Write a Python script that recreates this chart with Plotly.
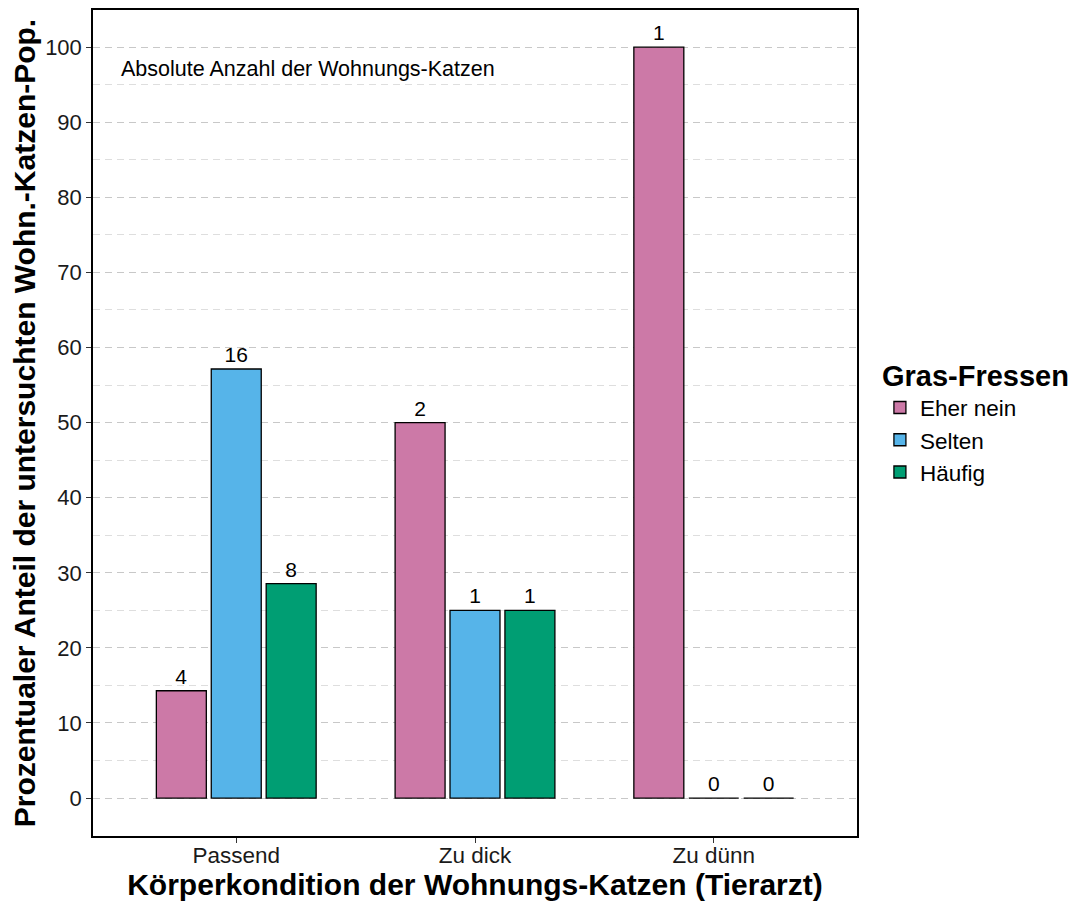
import plotly.graph_objects as go

categories = ["Passend", "Zu dick", "Zu dünn"]
groups = ["Eher nein", "Selten", "Häufig"]
percent = {
    "Eher nein": [14.29, 50.0, 100.0],
    "Selten": [57.14, 25.0, 0.0],
    "Häufig": [28.57, 25.0, 0.0],
}
counts = {
    "Eher nein": [4, 2, 1],
    "Selten": [16, 1, 0],
    "Häufig": [8, 1, 0],
}
colors = {"Eher nein": "#CC79A7", "Selten": "#56B4E9", "Häufig": "#009E73"}

FONT = "Liberation Sans, Arial, sans-serif"

fig = go.Figure()
for g in groups:
    fig.add_trace(go.Bar(
        x=categories, y=percent[g], name=g,
        marker=dict(color=colors[g], line=dict(color="black", width=1.3)),
        text=[str(c) for c in counts[g]], textposition="outside",
        textfont=dict(size=21, color="black", family=FONT),
        cliponaxis=False,
    ))

# page body adds an 8px margin, so the figure is 8px smaller and shifted
fig.update_layout(
    width=1073, height=894,
    barmode="group", bargap=0.31, bargroupgap=0.09,
    plot_bgcolor="white", paper_bgcolor="white",
    margin=dict(l=85, r=224, t=2, b=66),
    font=dict(family=FONT, color="black"),
    legend=dict(
        title=dict(text="<b>Gras-Fressen</b>", font=dict(size=29, family=FONT)),
        font=dict(size=22.5, family=FONT),
        x=1.03, xanchor="left", y=0.59, yanchor="top",
        tracegroupgap=0, itemwidth=30, borderwidth=0,
    ),
    annotations=[dict(
        text="Absolute Anzahl der Wohnungs-Katzen", xref="paper", yref="paper",
        x=0.034, y=0.929, xanchor="left", yanchor="middle", showarrow=False,
        font=dict(size=21.5, family=FONT, color="black"),
    )],
)
fig.update_xaxes(
    range=[-0.6, 2.6], showline=True, linecolor="black", linewidth=1.5, mirror=True,
    ticks="outside", ticklen=5, tickcolor="#333333", ticklabelstandoff=-7,
    tickfont=dict(size=22.5, color="#1a1a1a"),
    title=dict(text="<b>Körperkondition der Wohnungs-Katzen (Tierarzt)</b>",
               font=dict(size=30, color="black"), standoff=0),
    showgrid=False, automargin=False,
)
fig.update_yaxes(
    range=[-5.05, 104.95], dtick=10, tick0=0,
    showline=True, linecolor="black", linewidth=1.5, mirror=True,
    ticks="outside", ticklen=5, tickcolor="#333333",
    tickfont=dict(size=22, color="#1a1a1a"),
    title=dict(text="<b>Prozentualer Anteil der untersuchten Wohn.-Katzen-Pop.</b>",
               font=dict(size=30, color="black"), standoff=4),
    showgrid=True, gridcolor="#c8c8c8", griddash="7px,5px", gridwidth=1,
    zeroline=False, automargin=False,
    minor=dict(dtick=5, showgrid=True, gridcolor="#dedede", griddash="7px,5px", gridwidth=1),
)

fig.write_html("out.html")
